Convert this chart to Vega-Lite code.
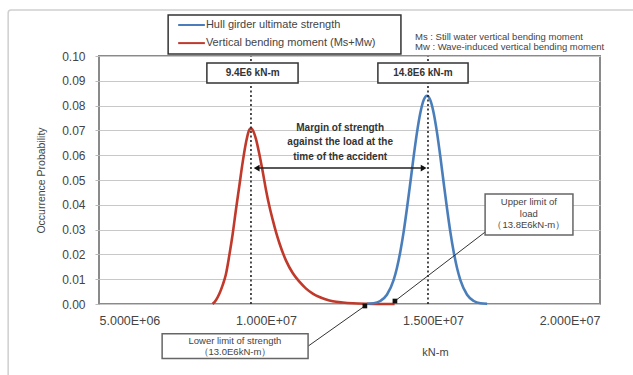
{
  "$schema": "https://vega.github.io/schema/vega-lite/v6.json",
  "width": 501,
  "height": 248,
  "autosize": "none",
  "padding": {"left": 99, "top": 56, "right": 33, "bottom": 71},
  "background": "white",
  "config": {
    "font": "Liberation Sans",
    "view": {"stroke": "#8a8a8a", "strokeWidth": 2}
  },
  "datasets": {
    "curves": [
      {"s": "VBM", "x": 8.40, "y": 0.0000},
      {"s": "VBM", "x": 8.50, "y": 0.0015},
      {"s": "VBM", "x": 8.60, "y": 0.0040},
      {"s": "VBM", "x": 8.70, "y": 0.0075},
      {"s": "VBM", "x": 8.80, "y": 0.0120},
      {"s": "VBM", "x": 8.90, "y": 0.0195},
      {"s": "VBM", "x": 9.00, "y": 0.0280},
      {"s": "VBM", "x": 9.10, "y": 0.0380},
      {"s": "VBM", "x": 9.20, "y": 0.0475},
      {"s": "VBM", "x": 9.30, "y": 0.0570},
      {"s": "VBM", "x": 9.40, "y": 0.0650},
      {"s": "VBM", "x": 9.50, "y": 0.0703},
      {"s": "VBM", "x": 9.55, "y": 0.0708},
      {"s": "VBM", "x": 9.60, "y": 0.0702},
      {"s": "VBM", "x": 9.70, "y": 0.0665},
      {"s": "VBM", "x": 9.80, "y": 0.0605},
      {"s": "VBM", "x": 9.90, "y": 0.0535},
      {"s": "VBM", "x": 10.00, "y": 0.0460},
      {"s": "VBM", "x": 10.10, "y": 0.0395},
      {"s": "VBM", "x": 10.20, "y": 0.0340},
      {"s": "VBM", "x": 10.30, "y": 0.0290},
      {"s": "VBM", "x": 10.40, "y": 0.0246},
      {"s": "VBM", "x": 10.60, "y": 0.0175},
      {"s": "VBM", "x": 10.80, "y": 0.0125},
      {"s": "VBM", "x": 11.00, "y": 0.0090},
      {"s": "VBM", "x": 11.20, "y": 0.0062},
      {"s": "VBM", "x": 11.40, "y": 0.0042},
      {"s": "VBM", "x": 11.60, "y": 0.0028},
      {"s": "VBM", "x": 11.80, "y": 0.0018},
      {"s": "VBM", "x": 12.00, "y": 0.0011},
      {"s": "VBM", "x": 12.30, "y": 0.0006},
      {"s": "VBM", "x": 12.60, "y": 0.0003},
      {"s": "VBM", "x": 13.00, "y": 0.0001},
      {"s": "VBM", "x": 13.40, "y": 0.0000},
      {"s": "VBM", "x": 13.85, "y": 0.0000},
      {"s": "Hull", "x": 13.02, "y": 0.0001},
      {"s": "Hull", "x": 13.22, "y": 0.0003},
      {"s": "Hull", "x": 13.42, "y": 0.0012},
      {"s": "Hull", "x": 13.62, "y": 0.0037},
      {"s": "Hull", "x": 13.82, "y": 0.0096},
      {"s": "Hull", "x": 13.92, "y": 0.0145},
      {"s": "Hull", "x": 14.02, "y": 0.0210},
      {"s": "Hull", "x": 14.12, "y": 0.0290},
      {"s": "Hull", "x": 14.22, "y": 0.0385},
      {"s": "Hull", "x": 14.32, "y": 0.0488},
      {"s": "Hull", "x": 14.42, "y": 0.0594},
      {"s": "Hull", "x": 14.52, "y": 0.0691},
      {"s": "Hull", "x": 14.62, "y": 0.0770},
      {"s": "Hull", "x": 14.72, "y": 0.0822},
      {"s": "Hull", "x": 14.82, "y": 0.0840},
      {"s": "Hull", "x": 14.92, "y": 0.0822},
      {"s": "Hull", "x": 15.02, "y": 0.0770},
      {"s": "Hull", "x": 15.12, "y": 0.0691},
      {"s": "Hull", "x": 15.22, "y": 0.0594},
      {"s": "Hull", "x": 15.32, "y": 0.0488},
      {"s": "Hull", "x": 15.42, "y": 0.0385},
      {"s": "Hull", "x": 15.52, "y": 0.0290},
      {"s": "Hull", "x": 15.62, "y": 0.0210},
      {"s": "Hull", "x": 15.72, "y": 0.0145},
      {"s": "Hull", "x": 15.82, "y": 0.0096},
      {"s": "Hull", "x": 16.02, "y": 0.0037},
      {"s": "Hull", "x": 16.22, "y": 0.0012},
      {"s": "Hull", "x": 16.42, "y": 0.0003},
      {"s": "Hull", "x": 16.62, "y": 0.0001}
    ],
    "frame": [{"x1": 2.28, "x2": 25, "y1": 0.1185, "y2": -0.04}],
    "dashes": [{"x": 9.55}, {"x": 14.85}],
    "valueBoxes": [
      {"x1": 8.23, "x2": 10.96, "y1": 0.0972, "y2": 0.0891, "cx": 9.6, "cy": 0.0931, "label": "9.4E6 kN-m"},
      {"x1": 13.35, "x2": 16.05, "y1": 0.0972, "y2": 0.0891, "cx": 14.7, "cy": 0.0931, "label": "14.8E6 kN-m"}
    ],
    "arrow": [{"x1": 9.72, "x2": 14.72, "y": 0.0548}],
    "arrowHeads": [
      {"x": 9.72, "y": 0.0548, "shape": "triangle-left"},
      {"x": 14.72, "y": 0.0548, "shape": "triangle-right"}
    ],
    "margin": [
      {"x": 12.22, "y": 0.0710, "t": "Margin of strength"},
      {"x": 12.22, "y": 0.0652, "t": "against the load at the"},
      {"x": 12.22, "y": 0.0594, "t": "time of the accident"}
    ],
    "calloutBoxes": [
      {"x1": 16.56, "x2": 19.19, "y1": 0.0444, "y2": 0.0278},
      {"x1": 6.89, "x2": 11.26, "y1": -0.0120, "y2": -0.0220}
    ],
    "calloutText": [
      {"x": 17.87, "y": 0.0411, "t": "Upper limit of"},
      {"x": 17.87, "y": 0.0364, "t": "load"},
      {"x": 17.87, "y": 0.0317, "t": "（13.8E6kN-m）"},
      {"x": 9.07, "y": -0.0148, "t": "Lower limit of strength"},
      {"x": 9.07, "y": -0.0193, "t": "（13.0E6kN-m）"}
    ],
    "leaders": [
      {"x1": 16.56, "y1": 0.029, "x2": 13.86, "y2": 0.0012},
      {"x1": 11.26, "y1": -0.0170, "x2": 12.96, "y2": -0.0008}
    ],
    "dots": [{"x": 13.86, "y": 0.0012}, {"x": 12.96, "y": -0.0008}],
    "legendBox": [{"x1": 7.07, "x2": 14.04, "y1": 0.1165, "y2": 0.1008}],
    "legendLines": [
      {"s": "Hull", "x1": 7.37, "x2": 8.17, "y": 0.1125, "t": "Hull girder ultimate strength"},
      {"s": "VBM", "x1": 7.37, "x2": 8.17, "y": 0.1052, "t": "Vertical bending moment (Ms+Mw)"}
    ],
    "notes": [
      {"x": 14.46, "y": 0.1077, "t": "Ms : Still water vertical bending moment"},
      {"x": 14.46, "y": 0.1036, "t": "Mw : Wave-induced vertical bending moment"}
    ]
  },
  "layer": [
    {
      "data": {"name": "curves"},
      "mark": {"type": "line", "strokeWidth": 2.6, "interpolate": "monotone"},
      "encoding": {
        "x": {
          "field": "x", "type": "quantitative",
          "scale": {"domain": [5, 20], "nice": false, "zero": false},
          "axis": {
            "values": [5, 10, 15, 20],
            "tickCount": 20,
            "labelExpr": "datum.value < 10 ? format(datum.value, '.3f') + 'E+06' : format(datum.value / 10, '.3f') + 'E+07'",
            "domain": false, "ticks": false, "grid": false,
            "labelFontSize": 12.5, "labelColor": "#444", "labelPadding": 10,
            "title": "kN-m", "titleFontSize": 11, "titleFontWeight": "normal", "titleColor": "#444",
            "titleX": 336, "titleY": 48, "titleBaseline": "middle"
          }
        },
        "y": {
          "field": "y", "type": "quantitative",
          "scale": {"domain": [0, 0.1], "nice": false},
          "axis": {
            "values": [0, 0.01, 0.02, 0.03, 0.04, 0.05, 0.06, 0.07, 0.08, 0.09, 0.1],
            "tickCount": 20,
            "labelOverlap": false,
            "format": ".2f",
            "domain": false, "ticks": true, "tickSize": 4, "tickColor": "#bbb",
            "grid": true, "gridColor": "#c8c8c8", "gridWidth": 1,
            "labelFontSize": 12, "labelColor": "#444", "labelPadding": 10,
            "title": "Occurrence Probability", "titleFontSize": 10.5, "titleFontWeight": "normal", "titleColor": "#444",
            "titlePadding": 15
          }
        },
        "color": {
          "field": "s", "type": "nominal",
          "scale": {"domain": ["Hull", "VBM"], "range": ["#4a7ebb", "#c0392b"]},
          "legend": null
        }
      }
    },
    {
      "data": {"name": "frame"},
      "mark": {"type": "rect", "fill": null, "stroke": "#cfcfcf", "strokeWidth": 1.5, "cornerRadius": 3},
      "encoding": {
        "x": {"field": "x1", "type": "quantitative"},
        "x2": {"field": "x2"},
        "y": {"field": "y1", "type": "quantitative"},
        "y2": {"field": "y2"}
      }
    },
    {
      "data": {"name": "dashes"},
      "mark": {"type": "rule", "color": "#222", "strokeWidth": 1.6, "strokeDash": [2, 2.5]},
      "encoding": {
        "x": {"field": "x", "type": "quantitative"},
        "y": {"datum": 0, "type": "quantitative"},
        "y2": {"datum": 0.1}
      }
    },
    {
      "data": {"name": "valueBoxes"},
      "mark": {"type": "rect", "fill": "white", "stroke": "#333", "strokeWidth": 1.5},
      "encoding": {
        "x": {"field": "x1", "type": "quantitative"},
        "x2": {"field": "x2"},
        "y": {"field": "y1", "type": "quantitative"},
        "y2": {"field": "y2"}
      }
    },
    {
      "data": {"name": "valueBoxes"},
      "mark": {"type": "text", "fontSize": 10, "fontWeight": "bold", "color": "#333", "baseline": "middle"},
      "encoding": {
        "x": {"field": "cx", "type": "quantitative"},
        "y": {"field": "cy", "type": "quantitative"},
        "text": {"field": "label"}
      }
    },
    {
      "data": {"name": "arrow"},
      "mark": {"type": "rule", "color": "#222", "strokeWidth": 1.5},
      "encoding": {
        "x": {"field": "x1", "type": "quantitative"},
        "x2": {"field": "x2"},
        "y": {"field": "y", "type": "quantitative"}
      }
    },
    {
      "data": {"name": "arrowHeads"},
      "mark": {"type": "point", "filled": true, "color": "#111", "size": 45, "opacity": 1},
      "encoding": {
        "x": {"field": "x", "type": "quantitative"},
        "y": {"field": "y", "type": "quantitative"},
        "shape": {"field": "shape", "type": "nominal", "scale": null}
      }
    },
    {
      "data": {"name": "margin"},
      "mark": {"type": "text", "fontSize": 10, "fontWeight": "bold", "color": "#333", "baseline": "middle"},
      "encoding": {
        "x": {"field": "x", "type": "quantitative"},
        "y": {"field": "y", "type": "quantitative"},
        "text": {"field": "t"}
      }
    },
    {
      "data": {"name": "leaders"},
      "mark": {"type": "rule", "color": "#333", "strokeWidth": 1},
      "encoding": {
        "x": {"field": "x1", "type": "quantitative"},
        "x2": {"field": "x2"},
        "y": {"field": "y1", "type": "quantitative"},
        "y2": {"field": "y2"}
      }
    },
    {
      "data": {"name": "dots"},
      "mark": {"type": "point", "filled": true, "color": "#111", "size": 22, "opacity": 1, "shape": "square"},
      "encoding": {
        "x": {"field": "x", "type": "quantitative"},
        "y": {"field": "y", "type": "quantitative"}
      }
    },
    {
      "data": {"name": "calloutBoxes"},
      "mark": {"type": "rect", "fill": "white", "stroke": "#666", "strokeWidth": 1.5},
      "encoding": {
        "x": {"field": "x1", "type": "quantitative"},
        "x2": {"field": "x2"},
        "y": {"field": "y1", "type": "quantitative"},
        "y2": {"field": "y2"}
      }
    },
    {
      "data": {"name": "calloutText"},
      "mark": {"type": "text", "fontSize": 9.5, "color": "#444", "baseline": "middle"},
      "encoding": {
        "x": {"field": "x", "type": "quantitative"},
        "y": {"field": "y", "type": "quantitative"},
        "text": {"field": "t"}
      }
    },
    {
      "data": {"name": "legendBox"},
      "mark": {"type": "rect", "fill": "white", "stroke": "#333", "strokeWidth": 1.5},
      "encoding": {
        "x": {"field": "x1", "type": "quantitative"},
        "x2": {"field": "x2"},
        "y": {"field": "y1", "type": "quantitative"},
        "y2": {"field": "y2"}
      }
    },
    {
      "data": {"name": "legendLines"},
      "mark": {"type": "rule", "strokeWidth": 2},
      "encoding": {
        "x": {"field": "x1", "type": "quantitative"},
        "x2": {"field": "x2"},
        "y": {"field": "y", "type": "quantitative"},
        "color": {"field": "s", "type": "nominal", "legend": null}
      }
    },
    {
      "data": {"name": "legendLines"},
      "mark": {"type": "text", "fontSize": 11, "color": "#444", "align": "left", "baseline": "middle", "dx": 1},
      "encoding": {
        "x": {"field": "x2", "type": "quantitative"},
        "y": {"field": "y", "type": "quantitative"},
        "text": {"field": "t"}
      }
    },
    {
      "data": {"name": "notes"},
      "mark": {"type": "text", "fontSize": 9.5, "color": "#444", "align": "left", "baseline": "middle"},
      "encoding": {
        "x": {"field": "x", "type": "quantitative"},
        "y": {"field": "y", "type": "quantitative"},
        "text": {"field": "t"}
      }
    }
  ]
}
